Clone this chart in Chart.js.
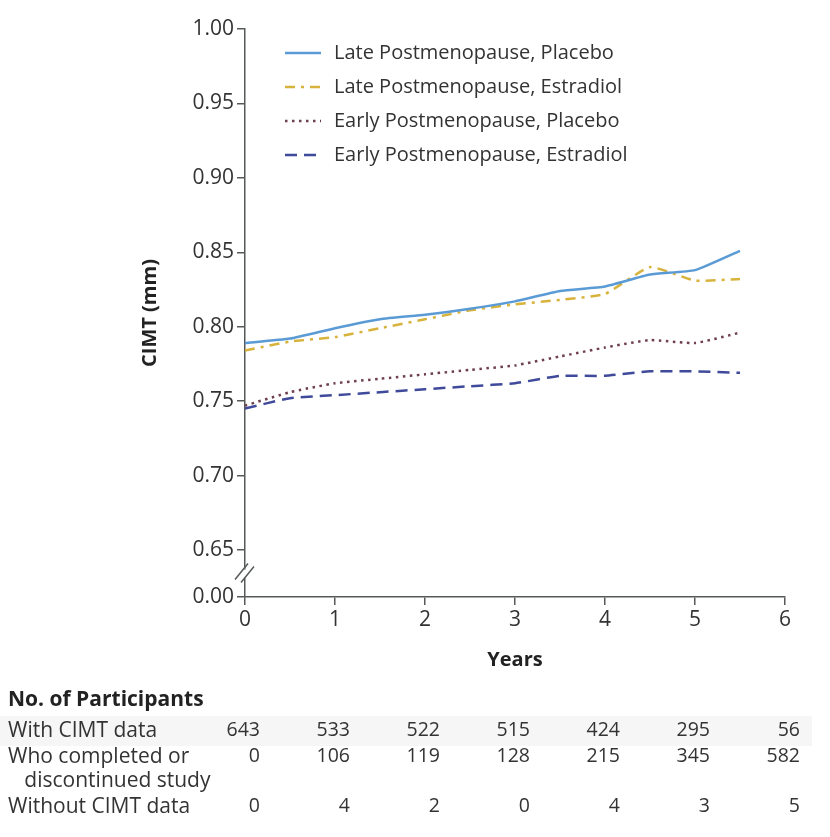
<!DOCTYPE html>
<html><head><meta charset="utf-8">
<script src="https://cdn.jsdelivr.net/npm/chart.js@4.4.0/dist/chart.umd.min.js"></script>
<style>
html,body{margin:0;padding:0;background:#fff;width:830px;height:837px;overflow:hidden;}
#wrap{position:relative;width:830px;height:837px;}
#c{position:absolute;left:0;top:0;}
#table{position:absolute;left:0;top:0;width:830px;height:837px;font-family:"Open Sans",Lato,sans-serif;color:#333;font-size:21px;}
.t{position:absolute;white-space:nowrap;line-height:24px;}
.n{font-size:19.5px;}
.band{position:absolute;left:0;width:812px;background:#f5f6f5;}
</style></head>
<body><div id="wrap"><canvas id="c" width="830" height="837"></canvas><div id="table"></div></div>
<script>
const years = [0, 0.5, 1, 1.5, 2, 2.5, 3, 3.5, 4, 4.5, 5, 5.5];
const latePlacebo    = [0.789, 0.792, 0.799, 0.805, 0.808, 0.812, 0.817, 0.824, 0.827, 0.835, 0.838, 0.851];
const lateEstradiol  = [0.784, 0.790, 0.793, 0.799, 0.805, 0.811, 0.815, 0.818, 0.822, 0.840, 0.831, 0.832];
const earlyPlacebo   = [0.747, 0.756, 0.762, 0.765, 0.768, 0.771, 0.774, 0.780, 0.786, 0.791, 0.789, 0.796];
const earlyEstradiol = [0.745, 0.752, 0.754, 0.756, 0.758, 0.760, 0.762, 0.767, 0.767, 0.770, 0.770, 0.769];
const seriesLabels = ['Late Postmenopause, Placebo', 'Late Postmenopause, Estradiol', 'Early Postmenopause, Placebo', 'Early Postmenopause, Estradiol'];
const yTickValues = [0.6184, 0.65, 0.70, 0.75, 0.80, 0.85, 0.90, 0.95, 1.00];
const yTickLabels = ['0.00', '0.65', '0.70', '0.75', '0.80', '0.85', '0.90', '0.95', '1.00'];
const xTickValues = [0, 1, 2, 3, 4, 5, 6];
const tableTitle = 'No. of Participants';
const rowLabels = [['With CIMT data'], ['Who completed or', '\u00a0\u00a0\u00a0discontinued study'], ['Without CIMT data']];
const withCimt = [643, 533, 522, 515, 424, 295, 56];
const completed = [0, 106, 119, 128, 215, 345, 582];
const withoutCimt = [0, 4, 2, 0, 4, 3, 5];

const FONT = '"Open Sans", Lato, sans-serif';
const AX = '#555a58';

function pts(vals){ return years.map((x,i)=>({x:x, y:vals[i]})); }

const legendPlugin = {
  id:'insideLegend',
  afterDatasetsDraw(chart){
    const ctx = chart.ctx, a = chart.chartArea;
    ctx.save();
    chart.data.datasets.forEach((ds,i)=>{
      const y = a.top + 24 + i*34;
      ctx.beginPath();
      ctx.strokeStyle = ds.borderColor;
      ctx.lineWidth = ds.borderWidth;
      ctx.setLineDash(ds.borderDash || []);
      ctx.lineCap = ds.borderCapStyle || 'butt';
      ctx.moveTo(a.left+40, y); ctx.lineTo(a.left+76, y);
      ctx.stroke();
      ctx.setLineDash([]);
      ctx.fillStyle = '#333';
      ctx.font = '20px ' + FONT;
      ctx.textBaseline = 'middle';
      ctx.fillText(ds.label, a.left+89, y);
    });
    ctx.restore();
  }
};

const breakPlugin = {
  id:'axisBreak',
  afterDraw(chart){
    const ctx = chart.ctx, ys = chart.scales.y;
    const x = chart.chartArea.left;
    const ym = (ys.getPixelForValue(yTickValues[0]) + ys.getPixelForValue(yTickValues[1]))/2;
    ctx.save();
    ctx.fillStyle = '#fff';
    ctx.fillRect(x-3, ym-4, 6, 8);
    ctx.strokeStyle = AX; ctx.lineWidth = 1.5;
    ctx.beginPath();
    ctx.moveTo(x-10, ym+6); ctx.lineTo(x+3, ym-10);
    ctx.moveTo(x-4, ym+9); ctx.lineTo(x+9, ym-7);
    ctx.stroke();
    ctx.restore();
  }
};

const chart = new Chart(document.getElementById('c'), {
  type:'line',
  data:{ datasets:[
    {label:seriesLabels[0], data:pts(latePlacebo), borderColor:'#5b9bd5', borderWidth:2.5, pointRadius:0, tension:0.15, fill:false},
    {label:seriesLabels[1], data:pts(lateEstradiol), borderColor:'#d8b33c', borderWidth:2.5, borderDash:[10,6,3,6], pointRadius:0, tension:0.15, fill:false},
    {label:seriesLabels[2], data:pts(earlyPlacebo), borderColor:'#6e3f4e', borderWidth:2.5, borderDash:[2.5,4.5], pointRadius:0, tension:0.15, fill:false},
    {label:seriesLabels[3], data:pts(earlyEstradiol), borderColor:'#3f4a9a', borderWidth:2.5, borderDash:[12,7], pointRadius:0, tension:0.15, fill:false}
  ]},
  options:{
    responsive:false, animation:false, devicePixelRatio:1,
    layout:{padding:{left:0, right:45, top:29, bottom:160}},
    plugins:{legend:{display:false}, tooltip:{enabled:false}},
    scales:{
      x:{type:'linear', min:0, max:6,
        afterBuildTicks(s){ s.ticks = xTickValues.map(v=>({value:v})); },
        afterFit(s){ s.height = 80; },
        grid:{display:true, drawOnChartArea:false, drawTicks:true, tickLength:8, color:AX, lineWidth:1.5},
        border:{display:true, color:AX, width:1.5},
        ticks:{font:{family:FONT, size:21}, color:'#333', padding:2, maxRotation:0},
        title:{display:true, text:'Years', font:{family:FONT, size:20, weight:'bold'}, color:'#222', padding:{top:0, bottom:5}}
      },
      y:{type:'linear', min:yTickValues[0], max:1.0,
        afterBuildTicks(s){ s.ticks = yTickValues.map(v=>({value:v})); },
        afterFit(s){ s.width = 245; },
        grid:{display:true, drawOnChartArea:false, drawTicks:true, tickLength:8, color:AX, lineWidth:1.5},
        border:{display:true, color:AX, width:1.5},
        ticks:{font:{family:FONT, size:21}, color:'#333', padding:3,
          callback:(v)=>{ const i = yTickValues.findIndex(t=>Math.abs(t-v)<1e-6); return i>=0 ? yTickLabels[i] : ''; }},
        title:{display:true, text:'CIMT (mm)', font:{family:FONT, size:20, weight:'bold'}, color:'#222', padding:{top:138, bottom:0}}
      }
    }
  },
  plugins:[legendPlugin, breakPlugin]
});

// Table of participants, columns aligned to the x scale
(function(){
  const tb = document.getElementById('table');
  const xs = chart.scales.x;
  const rows = [withCimt, completed, withoutCimt];
  const rowY = [717, 743, 793];
  let html = '<div class="band" style="top:716px;height:30px"></div>';
  html += '<div class="t" style="left:8px;top:686px;font-weight:bold;color:#222">'+tableTitle+'</div>';
  const labelY = [[717],[743,767],[793]];
  rowLabels.forEach((lines,r)=>{
    lines.forEach((txt,k)=>{ html += '<div class="t" style="left:8px;top:'+labelY[r][k]+'px">'+txt+'</div>'; });
  });
  rows.forEach((vals,r)=>{
    vals.forEach((v,i)=>{
      const right = 830 - (xs.getPixelForValue(xTickValues[i]) + 15);
      html += '<div class="t n" style="right:'+right+'px;top:'+rowY[r]+'px">'+v+'</div>';
    });
  });
  tb.innerHTML = html;
})();
</script>
</body></html>
